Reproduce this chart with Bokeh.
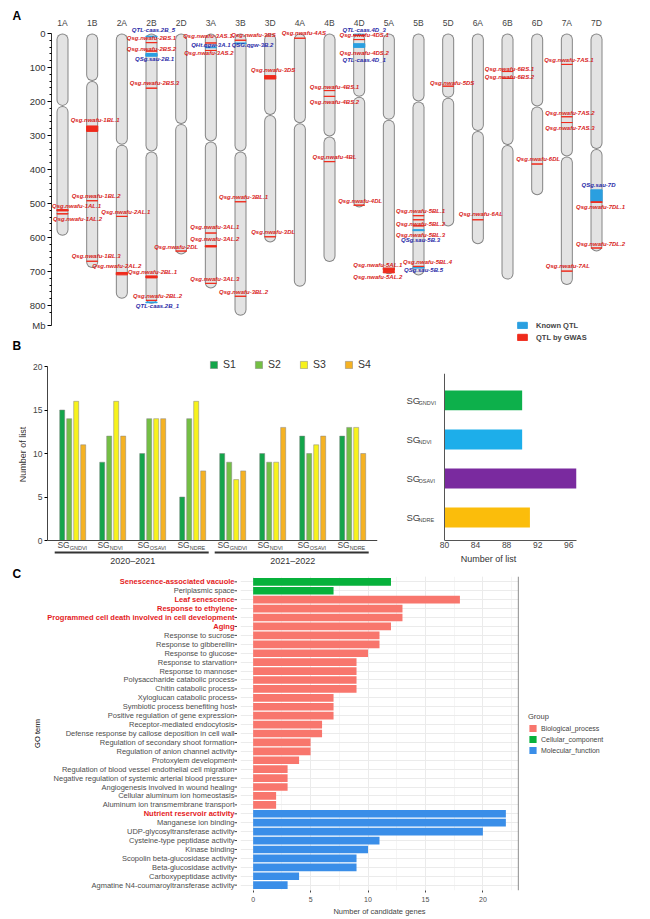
import numpy as np
from bokeh.plotting import figure
from bokeh.models import (Range1d, ColumnDataSource, FixedTicker, SingleIntervalTicker,
                          Legend, LegendItem, Span, Grid, Title)
from bokeh.layouts import column, row
from bokeh.core.properties import value
from bokeh.embed import file_html
from bokeh.resources import INLINE

FONT = "Liberation Sans"

# ---------------- Panel A data ----------------
chromosomes = ["1A", "1B", "2A", "2B", "2D", "3A", "3B", "3D", "4A", "4B",
               "4D", "5A", "5B", "5D", "6A", "6B", "6D", "7A", "7D"]
chrom_length_mb = [595, 690, 780, 795, 650, 750, 830, 615, 745, 672,
                   512, 708, 712, 568, 620, 724, 476, 740, 641]
centromere_mb = [213, 140, 327, 347, 266, 318, 347, 240, 264, 303,
                 186, 254, 200, 189, 287, 328, 215, 362, 340]
mb_ticks = [0, 100, 200, 300, 400, 500, 600, 700, 800]

qtl_chrom = ["1A", "1A", "1B", "1B", "1B", "2A", "2A", "2B", "2B", "2B", "2B", "2B", "2B", "2B", "2B",
             "2D", "3A", "3A", "3A", "3A", "3A", "3A", "3B", "3B", "3B", "3B", "3D", "3D", "4A",
             "4B", "4B", "4B", "4D", "4D", "4D", "4D", "4D", "5A", "5A", "5B", "5B", "5B", "5B",
             "5B", "5B", "5D", "6A", "6B", "6B", "6D", "7A", "7A", "7A", "7A", "7D", "7D", "7D"]
qtl_start_mb = [518, 530, 272, 492, 670, 538, 703, 8, 27, 52, 59, 161, 713, 785, 790,
                640, 28, 40, 50, 587, 624, 735, 20, 28, 495, 773, 124, 598, 14,
                168, 185, 377, 2, 6, 18, 30, 505, 690, 700, 536, 548, 566, 577,
                685, 688, 155, 548, 112, 132, 384, 91, 245, 262, 699, 460, 495, 631]
qtl_end_mb = [522, 531, 288, 492, 670, 538, 710, 10, 27, 52, 67, 161, 719, 785, 792,
              640, 28, 42, 50, 587, 628, 735, 20, 30, 495, 773, 134, 598, 14,
              168, 185, 377, 4, 6, 18, 41, 505, 697, 704, 536, 548, 566, 580,
              685, 690, 155, 548, 112, 132, 384, 91, 245, 262, 699, 494, 497, 631]
qtl_name = ["Qsg.nwafu-1AL.1", "Qsg.nwafu-1AL.2", "Qsg.nwafu-1BL.1", "Qsg.nwafu-1BL.2",
            "Qsg.nwafu-1BL.3", "Qsg.nwafu-2AL.1", "Qsg.nwafu-2AL.2", "QTL-caas.2B_5",
            "Qsg.nwafu-2BS.1", "Qsg.nwafu-2BS.2", "QSg.sau-2B.1", "Qsg.nwafu-2BS.3",
            "Qsg.nwafu-2BL.1", "Qsg.nwafu-2BL.2", "QTL-caas.2B_1", "Qsg.nwafu-2DL",
            "Qsg.nwafu-3AS.1", "QHt.qgw-3A.1", "Qsg.nwafu-3AS.2", "Qsg.nwafu-3AL.1",
            "Qsg.nwafu-3AL.2", "Qsg.nwafu-3AL.3", "Qsg.nwafu-3BS", "QSG.qgw-3B.2",
            "Qsg.nwafu-3BL.1", "Qsg.nwafu-3BL.2", "Qsg.nwafu-3DS", "Qsg.nwafu-3DL",
            "Qsg.nwafu-4AS", "Qsg.nwafu-4BS.1", "Qsg.nwafu-4BS.2", "Qsg.nwafu-4BL",
            "QTL-caas.4D_3", "Qsg.nwafu-4DS.1", "Qsg.nwafu-4DS.2", "QTL-caas.4D_1",
            "Qsg.nwafu-4DL", "Qsg.nwafu-5AL.1", "Qsg.nwafu-5AL.2", "Qsg.nwafu-5BL.1",
            "Qsg.nwafu-5BL.2", "Qsg.nwafu-5BL.3", "QSg.sau-5B.3", "Qsg.nwafu-5BL.4",
            "QSg.sau-5B.5", "Qsg.nwafu-5DS", "Qsg.nwafu-6AL", "Qsg.nwafu-6BS.1",
            "Qsg.nwafu-6BS.2", "Qsg.nwafu-6DL", "Qsg.nwafu-7AS.1", "Qsg.nwafu-7AS.2",
            "Qsg.nwafu-7AS.3", "Qsg.nwafu-7AL", "QSg.sau-7D", "Qsg.nwafu-7DL.1",
            "Qsg.nwafu-7DL.2"]

# label placement only (pixels, layout)
qtl_label_dx = [14, 15, 3, 4, 4, 4, -5, 2, 0, 0, 3, 3, 1, 6, 6, -5, -3, 0, -2, 4, 4, 4,
                13, 12, 3, 3, 3, 3, 4, 5, 5, 5, 5, 5, 5, 5, 1, -11, -11, 2, 2, 2, 2, 9, 5,
                4, 3, 2, 2, 1, 2, 3, 3, 1, 2, 4, 4]
qtl_label_dy = [-4, 5, -6, -4.5, -5, -4.5, -6, -6, -5, -2, 5, -5, -4, -4, 4, -4, -7, -2, 3,
                -6, -7, -4.5, -5, 2, -4.5, -4, -5.5, -4.5, -5, -3.5, 6, -5, -4.5, -1, 13, 16,
                -4.5, -3.5, 6, -5, 4, 9, 10, -4.5, 3, -3.5, -6, -3, -1, -5, -4.5, -4, 5, -5.5,
                -5, 5.5, -4.5]

# ---------------- Panel B data ----------------
sg_indices = ["GNDVI", "NDVI", "OSAVI", "NDRE"]
seasons = ["2020\u20132021", "2021\u20132022"]
series_names = ["S1", "S2", "S3", "S4"]
s1_counts = [15, 9, 10, 5, 10, 10, 12, 12]
s2_counts = [14, 12, 14, 14, 9, 9, 10, 13]
s3_counts = [16, 16, 14, 16, 7, 9, 11, 13]
s4_counts = [11, 12, 14, 8, 8, 13, 12, 10]
total_list = [90, 90, 97, 91]
total_ticks = [80, 84, 88, 92, 96]

# ---------------- Panel C data ----------------
go_terms = ["Senescence-associated vacuole", "Periplasmic space", "Leaf senescence",
            "Response to ethylene", "Programmed cell death involved in cell development",
            "Aging", "Response to sucrose", "Response to gibberellin", "Response to glucose",
            "Response to starvation", "Response to mannose", "Polysaccharide catabolic process",
            "Chitin catabolic process", "Xyloglucan catabolic process",
            "Symbiotic process benefiting host", "Positive regulation of gene expression",
            "Receptor-mediated endocytosis", "Defense response by callose deposition in cell wall",
            "Regulation of secondary shoot formation", "Regulation of anion channel activity",
            "Protoxylem development", "Regulation of blood vessel endothelial cell migration",
            "Negative regulation of systemic arterial blood pressure",
            "Angiogenesis involved in wound healing", "Cellular aluminum ion homeostasis",
            "Aluminum ion transmembrane transport", "Nutrient reservoir activity",
            "Manganese ion binding", "UDP-glycosyltransferase activity",
            "Cysteine-type peptidase activity", "Kinase binding",
            "Scopolin beta-glucosidase activity", "Beta-glucosidase activity",
            "Carboxypeptidase activity", "Agmatine N4-coumaroyltransferase activity"]
go_group = ["Cellular_component"] * 2 + ["Biological_process"] * 24 + ["Molecular_function"] * 9
gene_counts = [12, 7, 18, 13, 13, 12, 11, 11, 10, 9, 9, 9, 9, 7, 7, 7, 6, 6, 5, 5, 4, 3, 3, 3,
               2, 2, 22, 22, 20, 11, 10, 9, 9, 4, 3]
highlighted_terms = ["Senescence-associated vacuole", "Leaf senescence", "Response to ethylene",
                     "Programmed cell death involved in cell development", "Aging",
                     "Nutrient reservoir activity"]
group_order = ["Biological_process", "Cellular_component", "Molecular_function"]

# ---------------- styles ----------------
RED = "#ef2b1c"
BLUE = "#2a9fe0"
RED_TXT = "#d8231b"
BLUE_TXT = "#2b2ba8"
s_colors = ["#13a54a", "#74bf44", "#f7f21c", "#f5b223"]
idx_colors = ["#0db04b", "#1daeea", "#7a2a9f", "#fbbd0b"]
grp_colors = {"Biological_process": "#f8766d", "Cellular_component": "#07b13b",
              "Molecular_function": "#3a8ee8"}


def base_fig(**kw):
    p = figure(output_backend="svg", toolbar_location=None, title=None, **kw)
    p.outline_line_color = None
    p.grid.visible = False
    p.background_fill_color = "white"
    p.border_fill_color = "white"
    return p


def strip_fig(w, h):
    # text-only strip: its frame fills the canvas, coordinates are canvas pixels
    return base_fig(frame_width=w, frame_height=h, min_border_left=0, min_border_right=0,
                    min_border_top=0, min_border_bottom=0, x_range=Range1d(0, w),
                    y_range=Range1d(h, 0), x_axis_location=None, y_axis_location=None)


STRIP_W = 26

# ================= Panel A =================
A_T = 18
A_L = 50 - STRIP_W
A_FW, A_FH = 580, 324
MB_PX = 0.34
A_TOP = -44
A_BOT = A_TOP + A_FH / MB_PX
A_X0, A_PX = -0.371, 29.667
nchr = len(chromosomes)
cidx = {c: i for i, c in enumerate(chromosomes)}


def ay(py):
    return A_TOP + (py - A_T) / MB_PX


pA = base_fig(frame_width=A_FW, frame_height=A_FH, min_border_left=A_L, min_border_right=20,
              min_border_top=A_T, min_border_bottom=0,
              x_range=Range1d(A_X0, A_X0 + A_FW / A_PX),
              y_range=Range1d(A_BOT, A_TOP), x_axis_location=None)

idx = np.arange(nchr)
L = np.array(chrom_length_mb, dtype=float)
C = np.array(centromere_mb, dtype=float)
r_mb = 6.0 / MB_PX
arms = [(np.full(nchr, r_mb), C - r_mb), (C + r_mb, L - r_mb)]
for y0, y1 in arms:
    pA.segment(x0=idx, y0=y0, x1=idx, y1=y1, line_width=12, line_color="#858585", line_cap="round")
    pA.segment(x0=idx, y0=y0, x1=idx, y1=y1, line_width=10, line_color="#e3e3e3", line_cap="round")

qx = np.array([cidx[c] for c in qtl_chrom], dtype=float)
is_gwas = [n.startswith("Qsg.nwafu") for n in qtl_name]
hw = 0.19
rend = {}
for kind, flag, col in [("Known", False, BLUE), ("GWAS", True, RED)]:
    sel = [i for i in range(len(qtl_name)) if is_gwas[i] == flag]
    src = ColumnDataSource(dict(left=qx[sel] - hw, right=qx[sel] + hw,
                                top=[qtl_start_mb[i] for i in sel],
                                bottom=[qtl_end_mb[i] for i in sel]))
    rend[kind] = pA.quad(left="left", right="right", top="top", bottom="bottom", source=src,
                         fill_color=col, line_color=col, line_width=1)

lab_src = ColumnDataSource(dict(x=qx, y=qtl_start_mb, text=qtl_name, dx=qtl_label_dx,
                                dy=qtl_label_dy,
                                color=[RED_TXT if g else BLUE_TXT for g in is_gwas]))
pA.text(x="x", y="y", text="text", x_offset="dx", y_offset="dy", text_color="color",
        source=lab_src, text_font=value(FONT), text_font_size="6px",
        text_font_style="bold italic", text_align="center", text_baseline="middle")

pA.text(x=idx, y=np.full(nchr, ay(22)), text=chromosomes, text_font=value(FONT),
        text_font_size="8.5px", text_color="#444444", text_align="center", text_baseline="middle")

MB_LABEL_POS = ay(325)
minor = [m for m in range(20, 840, 20) if m % 100 != 0]
ya = pA.yaxis[0]
ya.ticker = FixedTicker(ticks=mb_ticks + [MB_LABEL_POS], minor_ticks=minor)
ya.major_label_overrides = {MB_LABEL_POS: "Mb"}
ya.bounds = (0, MB_LABEL_POS)
ya.major_label_text_font = FONT
ya.major_label_text_font_size = "9.5px"
ya.major_label_text_color = "#333333"
ya.major_tick_out = 4
ya.major_tick_in = 0
ya.minor_tick_out = 2
ya.minor_tick_in = 0
ya.axis_line_color = "#333333"
ya.major_label_standoff = 2

legA = Legend(items=[LegendItem(label="Known QTL", renderers=[rend["Known"]]),
                     LegendItem(label="QTL by GWAS", renderers=[rend["GWAS"]])],
              location=(465, 0), glyph_width=12, glyph_height=8, label_height=10,
              spacing=2, padding=2, margin=0, label_standoff=8,
              label_text_font=FONT, label_text_font_size="7.5px", label_text_font_style="bold",
              border_line_color=None, background_fill_alpha=0)
pA.add_layout(legA)
A_H = A_T + A_FH

# ================= Panel B left =================
B_L = 47 - STRIP_W
B_PY = 8.7
B_TOP_PX, B_BOT_PX = A_H, 566          # canvas rows of this figure's frame
B_YTOP = 20 + (366 - B_TOP_PX) / B_PY
B_YBOT = -(B_BOT_PX - 540) / B_PY
B_FH = B_BOT_PX - B_TOP_PX
B_FW = 330
B_X0, B_PX = -0.63, 40.0
ngrp = len(seasons) * len(sg_indices)
grp_index = list(range(ngrp))

pB = base_fig(frame_width=B_FW, frame_height=B_FH, min_border_left=B_L, min_border_right=11,
              min_border_top=0, min_border_bottom=0,
              x_range=Range1d(B_X0, B_X0 + B_FW / B_PX),
              y_range=Range1d(B_YBOT, B_YTOP), x_axis_location=None)
BAR_STEP, BAR_W = 0.175, 0.125
bar_rends = []
for s, (vals, col) in enumerate(zip([s1_counts, s2_counts, s3_counts, s4_counts], s_colors)):
    xs = [g + (s - 1.5) * BAR_STEP for g in grp_index]
    bar_rends.append(pB.vbar(x=xs, top=vals, bottom=0, width=BAR_W, fill_color=col,
                             line_color="#808080", line_width=0.5))
pB.add_layout(Span(location=0, dimension="width", line_color="#444444", line_width=1))

yb = pB.yaxis[0]
yb.ticker = SingleIntervalTicker(interval=5, num_minor_ticks=0)
yb.bounds = (0, 20)
yb.major_label_text_font = FONT
yb.major_label_text_font_size = "8.5px"
yb.major_label_text_color = "#444444"
yb.major_tick_out = 3
yb.major_tick_in = 0
yb.minor_tick_line_color = None
yb.axis_line_color = "#444444"
yb.major_label_standoff = 2

TICK_Y = -0.46
grp_label = sg_indices * len(seasons)
pB.text(x=grp_index, y=[TICK_Y] * ngrp, text=["SG"] * ngrp, x_offset=-3,
        text_font=value(FONT), text_font_size="8.5px", text_color="#444444",
        text_align="right", text_baseline="middle")
pB.text(x=grp_index, y=[TICK_Y] * ngrp, text=grp_label, x_offset=-3,
        text_font=value(FONT), text_font_size="5.5px", text_color="#444444",
        text_align="left", text_baseline="top")
ns = len(sg_indices)
first = [j * ns for j in range(len(seasons))]
last = [j * ns + ns - 1 for j in range(len(seasons))]
pB.segment(x0=[f - 0.45 for f in first], x1=[l + 0.4 for l in last], y0=[-1.38] * len(seasons),
           y1=[-1.38] * len(seasons), line_color="#333333", line_width=1.8)
pB.text(x=[(f + l) / 2 for f, l in zip(first, last)], y=[-2.3] * len(seasons), text=seasons,
        text_font=value(FONT), text_font_size="9px", text_color="#333333",
        text_align="center", text_baseline="middle")

legB = Legend(items=[LegendItem(label=n, renderers=[r]) for n, r in zip(series_names, bar_rends)],
              orientation="horizontal", location=(162, B_BOT_PX - 364 - 6), glyph_width=9,
              glyph_height=9, label_height=12, label_standoff=5, spacing=11, padding=2, margin=0,
              label_text_font=FONT, label_text_font_size="10.5px", label_text_color="#333333",
              border_line_color=None, background_fill_alpha=0)
pB.add_layout(legB)
B_W = B_L + B_FW + 11

# ================= Panel B right =================
R_L = 12
R_FW, R_FH = 176, 167
R_PX = 7.765
R_X0 = 80 - 44 / R_PX
R_TOP = 373 - B_TOP_PX
R_BOTB = B_BOT_PX - 540
ypos_r = [len(sg_indices) - 1 - i for i in range(len(sg_indices))]
pR = base_fig(frame_width=R_FW, frame_height=R_FH, min_border_left=R_L,
              min_border_right=650 - STRIP_W - B_W - R_L - R_FW,
              min_border_top=R_TOP, min_border_bottom=R_BOTB,
              x_range=Range1d(R_X0, R_X0 + R_FW / R_PX), y_range=Range1d(-0.59, 3.69),
              y_axis_location=None)
pR.hbar(y=ypos_r, left=total_ticks[0], right=total_list, height=0.51, fill_color=idx_colors,
        line_color=None)
pR.add_layout(Span(location=total_ticks[0], dimension="height", line_color="#555555", line_width=1))
xr = pR.xaxis[0]
xr.ticker = FixedTicker(ticks=total_ticks)
xr.bounds = (total_ticks[0], max(total_list))
xr.major_label_text_font = FONT
xr.major_label_text_font_size = "8.5px"
xr.major_label_text_color = "#444444"
xr.major_tick_out = 0
xr.major_tick_in = 0
xr.minor_tick_line_color = None
xr.major_label_standoff = 1
xr.axis_line_color = "#555555"
pR.add_layout(Title(text="Number of list", align="center", offset=17, standoff=3,
                    text_font=FONT, text_font_size="9px", text_font_style="normal",
                    text_color="#333333"), "below")
pR.text(x=[R_X0] * len(sg_indices), y=ypos_r, text=["SG"] * len(sg_indices), x_offset=6,
        text_font=value(FONT), text_font_size="9.5px", text_color="#444444",
        text_align="left", text_baseline="middle")
pR.text(x=[R_X0] * len(sg_indices), y=ypos_r, text=sg_indices, x_offset=18,
        text_font=value(FONT), text_font_size="5.5px", text_color="#444444",
        text_align="left", text_baseline="top")

# left strip for panels A and B (panel letters, y-axis title of B)
pAB = strip_fig(STRIP_W, B_BOT_PX)
pAB.text(x=[12, 12], y=[15, 345], text=["A", "B"], text_font=value(FONT), text_font_size="12px",
         text_font_style="bold", text_color="black", text_align="left", text_baseline="middle")
pAB.text(x=[22], y=[454], text=["Number of list"], angle=np.pi / 2, text_font=value(FONT),
         text_font_size="9px", text_color="#333333", text_align="center", text_baseline="middle")

# ================= Panel C =================
S_W = 237
C_ROW = B_BOT_PX
C_T, C_B = 576 - C_ROW, 25
C_FW, C_FH = 278, 314
nC = len(go_terms)
ypos_c = [nC - 1 - i for i in range(nC)]
pad = max(gene_counts) * 0.05
C_PY = C_FH / (nC - 1 + 1.2)
Y_TOP, Y_BOT = nC - 1 + 0.6, -0.6

pC = base_fig(frame_width=C_FW, frame_height=C_FH, min_border_left=3, min_border_right=132,
              min_border_top=C_T, min_border_bottom=C_B,
              x_range=Range1d(-pad, max(gene_counts) + pad), y_range=Range1d(Y_BOT, Y_TOP),
              y_axis_location=None)
pC.add_layout(Grid(dimension=1, ticker=FixedTicker(ticks=ypos_c), grid_line_color="#ebebeb"))
pC.xgrid.visible = True
pC.xgrid.grid_line_color = "#ebebeb"
pC.xgrid.minor_grid_line_color = "#f5f5f5"
c_rends = {}
for grp in group_order:
    sel = [i for i in range(nC) if go_group[i] == grp]
    src = ColumnDataSource(dict(y=[ypos_c[i] for i in sel], right=[gene_counts[i] for i in sel]))
    c_rends[grp] = pC.hbar(y="y", left=0, right="right", height=0.86, source=src,
                           fill_color=grp_colors[grp], line_color=None)
pC.add_layout(Span(location=max(gene_counts) + pad, dimension="height",
                   line_color="#444444", line_width=1.2))
xc = pC.xaxis[0]
xc.ticker = SingleIntervalTicker(interval=5, num_minor_ticks=2)
xc.minor_tick_line_color = None
xc.axis_line_color = None
xc.major_tick_out = 2
xc.major_tick_in = 0
xc.major_tick_line_color = "#444444"
xc.major_label_standoff = 2
xc.major_label_text_font = FONT
xc.major_label_text_font_size = "7px"
xc.major_label_text_color = "#4d4d4d"
xc.axis_label = "Number of candidate genes"
xc.axis_label_text_font = FONT
xc.axis_label_text_font_size = "7.5px"
xc.axis_label_text_font_style = "normal"
xc.axis_label_standoff = 2
legC = Legend(title="Group", items=[LegendItem(label=g, renderers=[c_rends[g]]) for g in group_order],
              location="center_left", glyph_width=9, glyph_height=9, label_height=9, spacing=2,
              padding=0, margin=10, label_standoff=4, title_standoff=3,
              title_text_font=FONT, title_text_font_size="7.5px", title_text_font_style="normal",
              label_text_font=FONT, label_text_font_size="7px",
              border_line_color=None, background_fill_alpha=0)
pC.add_layout(legC, "right")

# label strip for panel C (same vertical scale as the bar chart)
S_H = C_T + C_FH + C_B
pS = base_fig(frame_width=S_W, frame_height=S_H, min_border_left=0, min_border_right=0,
              min_border_top=0, min_border_bottom=0,
              x_range=Range1d(0, S_W),
              y_range=Range1d(Y_BOT - C_B / C_PY, Y_TOP + C_T / C_PY),
              x_axis_location=None, y_axis_location=None)
hl = [t in highlighted_terms for t in go_terms]
strip_src = ColumnDataSource(dict(y=ypos_c, text=go_terms,
                                  color=["#e41a1c" if h else "#4d4d4d" for h in hl],
                                  style=["bold" if h else "normal" for h in hl]))
pS.text(x=S_W - 3, y="y", text="text", text_color="color", text_font_style="style",
        source=strip_src, text_font=value(FONT), text_font_size="7.5px",
        text_align="right", text_baseline="middle")
pS.scatter(x=S_W - 1.5, y="y", source=strip_src, marker="dash", size=3, line_color="#444444",
           line_width=1)
pS.text(x=[37], y=[(Y_TOP + Y_BOT) / 2], text=["GO term"], angle=np.pi / 2,
        text_font=value(FONT), text_font_size="7.5px", text_color="black",
        text_align="center", text_baseline="middle")
pS.text(x=[12], y=[Y_TOP + (576 - 573) / C_PY], text=["C"], text_font=value(FONT),
        text_font_size="12px", text_font_style="bold", text_color="black",
        text_align="left", text_baseline="middle")

top_part = row(column(pAB), column(column(pA), row(column(pB), column(pR))))
layout = column(top_part, row(column(pS), column(pC)))
open("out.html", "w").write(file_html(layout, INLINE))
